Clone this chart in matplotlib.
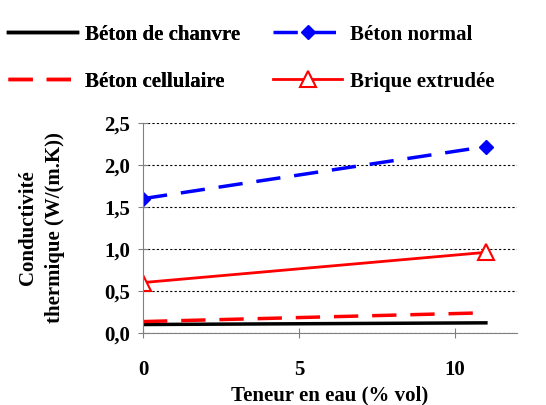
import numpy as np
import matplotlib.pyplot as plt
from matplotlib.ticker import FuncFormatter

plt.rcParams['font.family'] = ['Liberation Serif', 'DejaVu Serif']
plt.rcParams['font.weight'] = 'bold'

# === Data ===
teneur = [0, 11]
chanvre = [0.10, 0.12]
normal = [1.60, 2.22]
cellulaire = [0.135, 0.24]
brique = [0.60, 0.96]

fs = 15

fig = plt.figure(figsize=(5.46, 4.05), dpi=100)
ax = fig.add_axes([0.262, 0.178, 0.685, 0.518])

l1, = ax.plot(teneur, chanvre, color='black', lw=2.5, label='Béton de chanvre')
l2, = ax.plot(teneur, normal, color='blue', lw=2.5, dashes=(7, 4), marker='D',
              markersize=7, label='Béton normal')
l3, = ax.plot(teneur, cellulaire, color='red', lw=2.5, dashes=(7, 4), label='Béton cellulaire')
l4, = ax.plot(teneur, brique, color='red', lw=2, marker='^', markersize=12,
              markerfacecolor='white', markeredgecolor='red', markeredgewidth=1.5,
              label='Brique extrudée')

ax.set_xlim(0, 12)
ax.set_ylim(0, 2.5)
ax.set_xticks([0, 5, 10])
ax.set_yticks(np.arange(0, 2.51, 0.5))
ax.yaxis.set_major_formatter(FuncFormatter(lambda v, p: f"{v:.1f}".replace('.', ',')))
ax.grid(axis='y', color='black', linestyle=(0, (2, 2)), lw=0.8)
ax.set_axisbelow(True)
for s in ['top', 'right']:
    ax.spines[s].set_visible(False)
for s in ['left', 'bottom']:
    ax.spines[s].set_color('gray')
ax.tick_params(axis='both', labelsize=fs, color='gray', length=7, direction='inout')
ax.tick_params(axis='x', pad=16)
ax.tick_params(axis='y', pad=6)
ax.set_xlabel('Teneur en eau (% vol)', fontsize=fs, fontweight='bold', labelpad=4)
ax.set_ylabel('Conductivité\nthermique (W/(m.K))', fontsize=fs, fontweight='bold',
              labelpad=28, linespacing=1.45)

# legend: two columns placed separately
leg_kw = dict(loc='upper left', frameon=False, fontsize=fs, handlelength=3.3,
              handletextpad=0.4, labelspacing=1.3, borderaxespad=0)
leg1 = fig.legend(handles=[l1, l3], bbox_to_anchor=(0.0, 0.96), **leg_kw)
fig.add_artist(leg1)
fig.legend(handles=[l2, l4], bbox_to_anchor=(0.485, 0.96), **leg_kw)

plt.savefig('out.png', dpi=100)
